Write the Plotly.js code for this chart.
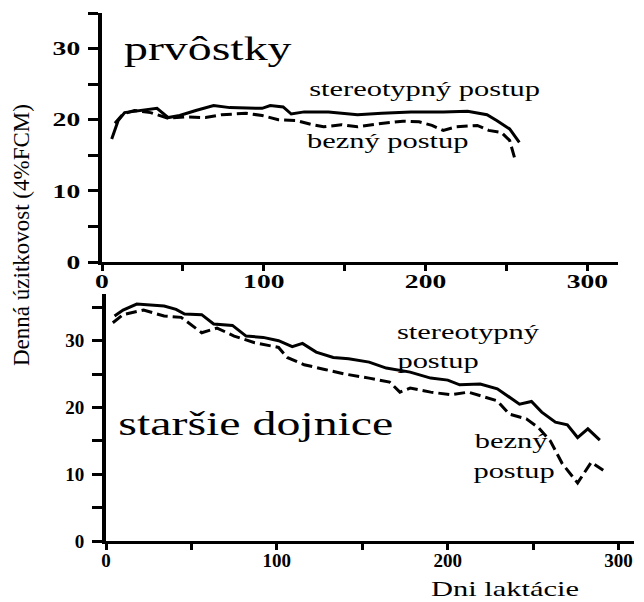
<!DOCTYPE html>
<html>
<head>
<meta charset="utf-8">
<script src="https://cdn.plot.ly/plotly-3.0.1.min.js"></script>
<style>html,body{margin:0;padding:0;background:#fff;}#chart{width:644px;height:602px;}</style>
</head>
<body>
<div id="chart"></div>
<script>
// Top panel: prvôstky (first-calf cows)
const topStereoDays = [6, 10, 14, 25, 34, 41, 48, 58, 69, 79, 89, 99, 104, 112, 117, 125, 140, 158, 173, 191, 211, 226, 238, 244, 252, 258];
const topStereoYield = [17.3, 19.9, 21.0, 21.3, 21.6, 20.3, 20.6, 21.3, 22.0, 21.7, 21.6, 21.6, 22.0, 21.8, 20.8, 21.1, 21.1, 20.7, 20.9, 21.1, 21.1, 21.2, 20.7, 19.9, 18.7, 16.8];
const topBeznyDays = [8, 13, 20, 30, 41, 51, 64, 74, 89, 99, 109, 120, 130, 137, 148, 158, 170, 186, 196, 204, 211, 219, 232, 239, 247, 252, 255];
const topBeznyYield = [19.5, 20.8, 21.3, 21.0, 20.2, 20.4, 20.3, 20.7, 20.9, 20.6, 20.0, 19.9, 19.3, 19.0, 19.3, 19.0, 19.4, 19.8, 19.7, 19.2, 18.5, 19.0, 19.2, 18.5, 18.2, 17.1, 14.7];

// Bottom panel: staršie dojnice (older cows)
const oldStereoDays = [5, 10, 18, 24, 34, 41, 46, 56, 63, 74, 82, 92, 101, 109, 115, 123, 133, 142, 154, 164, 178, 190, 200, 207, 219, 229, 236, 242, 249, 255, 263, 270, 276, 282, 289];
const oldStereoYield = [33.7, 34.6, 35.5, 35.4, 35.2, 34.7, 34.0, 33.9, 32.5, 32.3, 30.7, 30.5, 30.0, 29.1, 29.6, 28.3, 27.5, 27.3, 26.8, 25.9, 25.3, 24.4, 24.1, 23.4, 23.5, 22.8, 21.6, 20.5, 20.9, 19.3, 17.8, 17.4, 15.5, 16.8, 15.1];
const oldBeznyDays = [4, 10, 22, 34, 44, 51, 56, 65, 75, 87, 101, 106, 116, 128, 140, 154, 166, 172, 178, 190, 202, 212, 222, 229, 236, 246, 253, 260, 267, 276, 284, 291];
const oldBeznyYield = [32.7, 33.9, 34.6, 33.7, 33.5, 32.2, 31.2, 31.9, 30.7, 29.7, 29.0, 27.5, 26.4, 25.7, 25.0, 24.4, 23.8, 22.3, 22.9, 22.3, 21.9, 22.3, 21.6, 21.0, 19.0, 18.3, 17.0, 15.0, 11.6, 8.7, 11.8, 10.6];

// Tick labels
const xTickVals = [0, 50, 100, 150, 200, 250, 300];
const xTickText = ['0', '', '100', '', '200', '', '300'];
const yTickVals = [0, 5, 10, 15, 20, 25, 30, 35];
const yTickText = ['0', '', '10', '', '20', '', '30', ''];

const serif = 'Liberation Serif';
const tickFont = {family: serif, size: 19, color: '#000', weight: 'bold'};

const solidLine = {color: '#000', width: 3};
const dashLine = {color: '#000', width: 3, dash: '11px,5px'};

const traces = [
  {x: topStereoDays, y: topStereoYield, xaxis: 'x', yaxis: 'y', mode: 'lines', line: solidLine, name: 'stereotypný postup'},
  {x: topBeznyDays, y: topBeznyYield, xaxis: 'x', yaxis: 'y', mode: 'lines', line: dashLine, name: 'bezný postup'},
  {x: oldStereoDays, y: oldStereoYield, xaxis: 'x2', yaxis: 'y2', mode: 'lines', line: solidLine, name: 'stereotypný postup'},
  {x: oldBeznyDays, y: oldBeznyYield, xaxis: 'x2', yaxis: 'y2', mode: 'lines', line: dashLine, name: 'bezný postup'}
];

function xAxis(domain, range, anchor) {
  return {domain: domain, range: range, anchor: anchor, showline: true, linecolor: '#000', linewidth: 3,
    showgrid: false, zeroline: false, ticks: 'outside', ticklen: 6, tickwidth: 3, tickcolor: '#000',
    ticklabelstandoff: -6,
    tickvals: xTickVals, ticktext: xTickText, tickfont: tickFont, fixedrange: true};
}
function yAxis(domain, range, anchor) {
  return {domain: domain, range: range, anchor: anchor, showline: true, linecolor: '#000', linewidth: 4,
    showgrid: false, zeroline: false, ticks: 'outside', ticklen: 10, tickwidth: 3, tickcolor: '#000',
    ticklabelstandoff: 4,
    tickvals: yTickVals, ticktext: yTickText, tickfont: tickFont, fixedrange: true};
}

function ann(text, px, py, size, extra) {
  return Object.assign({text: text, xref: 'paper', yref: 'paper', x: px / 644, y: 1 - py / 602,
    xanchor: 'center', yanchor: 'middle', showarrow: false,
    font: {family: serif, size: size, color: '#000'}}, extra || {});
}

const layout = {
  width: 644, height: 602,
  margin: {l: 0, r: 0, t: 0, b: 0},
  paper_bgcolor: '#fff', plot_bgcolor: '#fff',
  showlegend: false,
  xaxis: xAxis([102 / 644, 618 / 644], [0, 319], 'y'),
  yaxis: yAxis([1 - 262 / 602, 1 - 13 / 602], [0, 35], 'x'),
  xaxis2: xAxis([106 / 644, 634 / 644], [0, 309], 'y2'),
  yaxis2: yAxis([1 - 541 / 602, 1 - 294 / 602], [0, 37], 'x2'),
  annotations: [
    ann('prvôstky', 208, 49, 33),
    ann('stereotypný postup', 424, 89, 21),
    ann('bezný postup', 387, 141, 21),
    ann('staršie dojnice', 256, 424, 33),
    ann('stereotypný', 468, 332, 21),
    ann('postup', 438, 361, 21),
    ann('bezný', 512, 441, 21),
    ann('postup', 514, 471, 21),
    ann('Dni laktácie', 505, 589, 21),
    ann('Denná úzitkovost (4%FCM)', 21, 235, 23, {textangle: -90})
  ]
};

// The reference lettering is horizontally widened; widen horizontal texts the same way.
const widen = 1.45;
Plotly.newPlot('chart', traces, layout, {displayModeBar: false, staticPlot: true}).then(function (gd) {
  const texts = gd.querySelectorAll('.annotation-text, .xtick text, .ytick text');
  texts.forEach(function (t) {
    if ((t.textContent || '').indexOf('Denná') === 0) return;
    const w = t.getComputedTextLength();
    if (w > 0) {
      t.setAttribute('textLength', (w * widen).toFixed(1));
      t.setAttribute('lengthAdjust', 'spacingAndGlyphs');
    }
  });
});
</script>
</body>
</html>
